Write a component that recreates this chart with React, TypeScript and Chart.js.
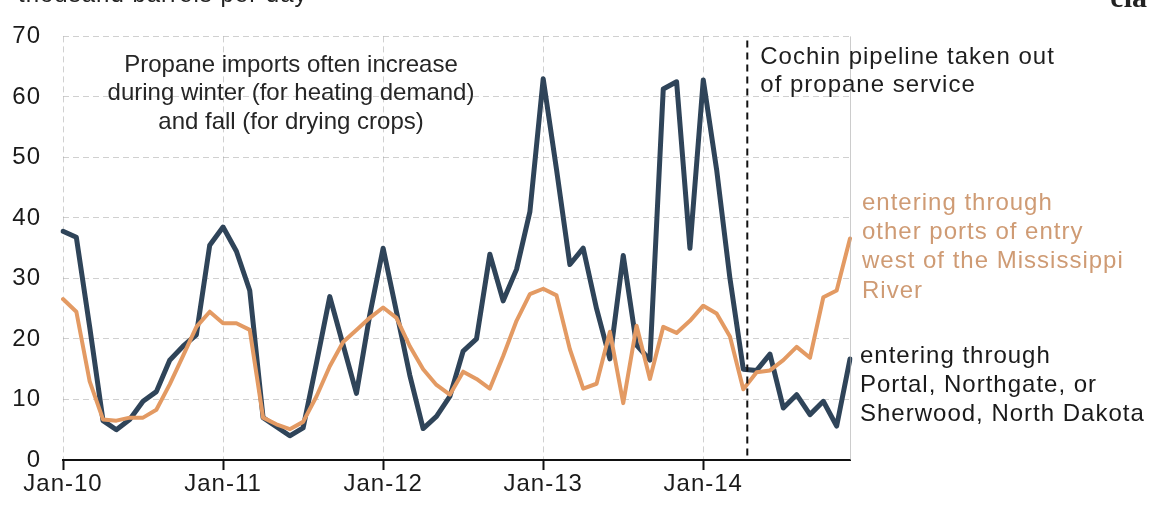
import React, { useEffect, useRef } from "react";
import { Chart, registerables } from "chart.js";

Chart.register(...registerables);

// ---- data ----
const YEARS = ["10", "11", "12", "13", "14"];
const MONTH_NAMES = ["Jan", "Feb", "Mar", "Apr", "May", "Jun", "Jul", "Aug", "Sep", "Oct", "Nov", "Dec"];
const MONTHS = YEARS.flatMap((y) => MONTH_NAMES.map((m) => `${m}-${y}`));

// entering through Portal, Northgate, or Sherwood, North Dakota (thousand barrels per day)
const PORTAL_ND = [
  37.8, 36.8, 22, 6.5, 5, 6.7, 9.7, 11.3, 16.5, 18.8, 20.7, 35.5,
  38.5, 34.5, 28, 7, 5.5, 4, 5.3, 16, 27, 19, 11, 24,
  35, 24.5, 14, 5.2, 7.2, 10.5, 18, 20, 34, 26.3, 31.5, 41,
  63, 48, 32.3, 35, 25, 16.7, 33.8, 19, 16.5, 61.3, 62.5, 35,
  62.8, 48, 30, 15, 14.8, 17.5, 8.6, 10.8, 7.5, 9.7, 5.6, 16.7,
];

// entering through other ports of entry west of the Mississippi River
const OTHER_WEST = [
  26.6, 24.5, 13, 6.7, 6.5, 7, 7, 8.3, 12.5, 17.2, 22, 24.5,
  22.6, 22.6, 21.5, 7, 5.9, 5.1, 6.3, 10.5, 15.5, 19.5, 21.5, 23.5,
  25.2, 23.5, 18.8, 15, 12.4, 10.8, 14.6, 13.4, 11.8, 17.2, 23, 27.4,
  28.3, 27.2, 18.3, 11.8, 12.6, 21.2, 9.4, 22.2, 13.4, 22, 21, 23,
  25.5, 24.2, 20.4, 11.7, 14.5, 14.8, 16.5, 18.7, 16.9, 26.9, 28, 36.6,
];

const Y_MIN = 0;
const Y_MAX = 70;
const Y_STEP = 10;

// month index (fractional) where Cochin pipeline was taken out of propane service
const COCHIN_INDEX = 51.3;

const UNITS_TEXT = "thousand barrels per day";
const SOURCE_TEXT = "eia";
const NOTE_LINES = [
  "Propane imports often increase",
  "during winter (for heating demand)",
  "and fall (for drying crops)",
];
const COCHIN_LINES = ["Cochin pipeline taken out", "of propane service"];
const OTHER_LABEL = ["entering through", "other ports of entry", "west of the Mississippi", "River"];
const PORTAL_LABEL = ["entering through", "Portal, Northgate, or", "Sherwood, North Dakota"];

const DARK = "#2f4459";
const ORANGE = "#e39a63";
const FONT = "'Liberation Sans', Arial, sans-serif";

const W = 1153;
const H = 506;

const annotations = {
  id: "annotations",
  beforeDraw(chart: any) {
    (chart.ctx as any).letterSpacing = "1px";
  },
  afterDraw(chart: any) {
    const ctx = chart.ctx as any;
    const area = chart.chartArea;
    const xs = chart.scales.x;
    ctx.save();

    // right edge light line
    ctx.strokeStyle = "rgba(170,170,170,0.6)";
    ctx.lineWidth = 1;
    ctx.beginPath();
    ctx.moveTo(area.right + 0.5, area.top);
    ctx.lineTo(area.right + 0.5, area.bottom);
    ctx.stroke();

    // Cochin dashed line
    const cx = xs.getPixelForValue(COCHIN_INDEX);
    ctx.strokeStyle = "#111";
    ctx.lineWidth = 2;
    ctx.setLineDash([7, 5]);
    ctx.beginPath();
    ctx.moveTo(cx, area.top + 4);
    ctx.lineTo(cx, area.bottom - 2);
    ctx.stroke();
    ctx.setLineDash([]);

    const drawLines = (lines: string[], x: number, y0: number, dy: number, color: string, align: string, spacing: string) => {
      ctx.fillStyle = color;
      ctx.textAlign = align;
      ctx.textBaseline = "middle";
      ctx.letterSpacing = spacing;
      ctx.font = `24px ${FONT}`;
      lines.forEach((t, i) => ctx.fillText(t, x, y0 + i * dy));
    };

    drawLines(NOTE_LINES, 291, 65, 28.5, "#262626", "center", "0px");
    drawLines(COCHIN_LINES, cx + 13, 57, 28, "#1e1e1e", "left", "1px");
    drawLines(OTHER_LABEL, area.right + 12, 203, 29.3, "#cf9b74", "left", "1px");
    drawLines(PORTAL_LABEL, area.right + 10, 356, 29.3, "#1a1a1a", "left", "1px");

    // units (cut off at top) and source logo
    ctx.letterSpacing = "1px";
    ctx.fillStyle = "#222";
    ctx.textAlign = "left";
    ctx.textBaseline = "alphabetic";
    ctx.font = `24px ${FONT}`;
    ctx.fillText(UNITS_TEXT, 18, 2);
    ctx.letterSpacing = "0px";
    ctx.textAlign = "right";
    ctx.font = `bold 30px 'Liberation Serif', serif`;
    ctx.fillText(SOURCE_TEXT, 1147, 7);

    ctx.restore();
    ctx.letterSpacing = "0px";
  },
};

export default function App() {
  const ref = useRef<HTMLCanvasElement | null>(null);

  useEffect(() => {
    if (!ref.current) return;
    const gridColor = "rgba(150,150,150,0.45)";
    const chart = new Chart(ref.current, {
      type: "line",
      data: {
        labels: MONTHS,
        datasets: [
          {
            label: "entering through other ports of entry west of the Mississippi River",
            data: OTHER_WEST,
            borderColor: ORANGE,
            borderWidth: 4,
            pointRadius: 0,
            tension: 0,
            borderJoinStyle: "round",
            borderCapStyle: "round",
          },
          {
            label: "entering through Portal, Northgate, or Sherwood, North Dakota",
            data: PORTAL_ND,
            borderColor: DARK,
            borderWidth: 5,
            pointRadius: 0,
            tension: 0,
            borderJoinStyle: "round",
            borderCapStyle: "round",
          },
        ],
      },
      options: {
        animation: false,
        responsive: false,
        devicePixelRatio: 1,
        layout: { padding: { left: 0, right: 303, top: 26, bottom: 0 } },
        plugins: {
          legend: { display: false },
          tooltip: { enabled: false },
          title: { display: false },
        },
        scales: {
          x: {
            type: "category",
            offset: false,
            border: { display: true, color: "#111", width: 2, dash: [6, 4] },
            grid: {
              color: gridColor,
              lineWidth: 1,
              drawTicks: true,
              tickLength: 10,
              tickColor: "#111",
              tickWidth: 2,
              tickBorderDash: [],
            },
            ticks: {
              autoSkip: false,
              maxRotation: 0,
              minRotation: 0,
              padding: 0,
              color: "#1a1a1a",
              font: { family: FONT, size: 24 },
              callback: (_v: any, i: number) => (i % 12 === 0 ? MONTHS[i] : null),
            },
            afterFit: (s: any) => {
              s.height = 46;
            },
          },
          y: {
            min: Y_MIN,
            max: Y_MAX,
            border: { display: false, dash: [6, 4] },
            grid: {
              color: gridColor,
              lineWidth: 1,
              drawTicks: false,
            },
            ticks: {
              stepSize: Y_STEP,
              padding: 22,
              color: "#1a1a1a",
              font: { family: FONT, size: 24 },
            },
            afterFit: (s: any) => {
              s.width = 63;
            },
          },
        },
      },
      plugins: [annotations],
    } as any);
    return () => chart.destroy();
  }, []);

  return (
    <div style={{ position: "fixed", left: 0, top: 0, width: W, height: H, background: "#fff" }}>
      <canvas ref={ref} width={W} height={H} style={{ width: W, height: H, display: "block" }} />
    </div>
  );
}
